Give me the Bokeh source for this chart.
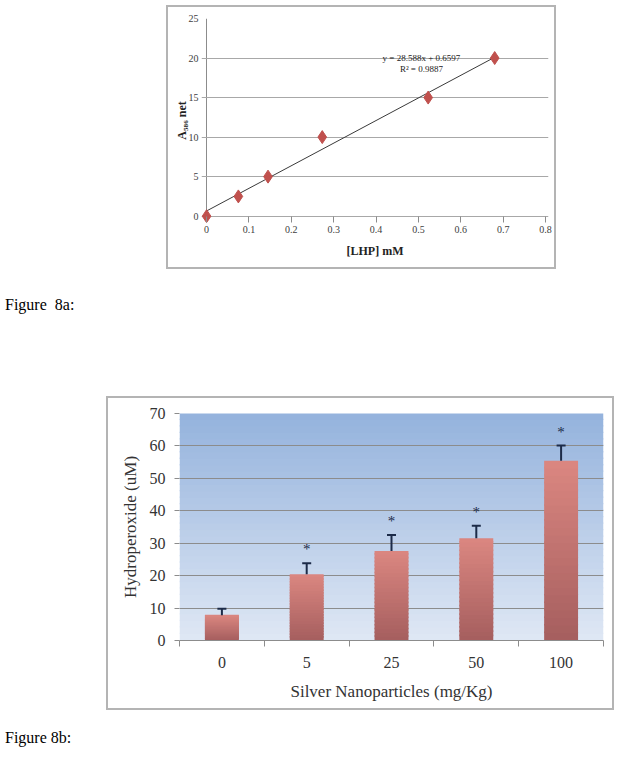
from bokeh.plotting import figure
from bokeh.models import (ColumnDataSource, FixedTicker, Whisker, TeeHead, BoxAnnotation,
                          Div, Spacer, Range1d)
from bokeh.layouts import column, row
from bokeh.embed import file_html
from bokeh.resources import INLINE
from bokeh.core.properties import value

# ---------------- Figure 8a data ----------------
lhp_mM = [0.0, 0.075, 0.145, 0.273, 0.523, 0.68]
a586_net = [0, 2.5, 5, 10, 15, 20]
fit_slope = 28.588
fit_intercept = 0.6597
fit_r2 = 0.9887
a_xticks = [0, 0.1, 0.2, 0.3, 0.4, 0.5, 0.6, 0.7, 0.8]
a_yticks = [0, 5, 10, 15, 20, 25]

# ---------------- Figure 8b data ----------------
doses = ["0", "5", "25", "50", "100"]
hydroperoxide = [7.8, 20.4, 27.6, 31.5, 55.4]
error_up = [2.0, 3.4, 4.9, 3.9, 4.7]
significant = [False, True, True, True, True]
b_yticks = [0, 10, 20, 30, 40, 50, 60, 70]

SERIF = "Liberation Serif"


def lerp(c1, c2, t):
    return "#%02x%02x%02x" % tuple(int(round(a + (b - a) * t)) for a, b in zip(c1, c2))


# ================= Figure 8a =================
p1 = figure(width=390, height=264, x_range=Range1d(-0.012, 0.807), y_range=Range1d(-0.8, 25),
            output_backend="svg", toolbar_location=None,
            min_border_left=33, min_border_right=10, min_border_top=11, min_border_bottom=49)
p1.styles = {"border": "2px solid #b4b4b4"}
p1.outline_line_color = None
# vertical grid line at x = 0 acts as the y axis line, y grid at 0 as the x axis line
p1.xgrid.ticker = FixedTicker(ticks=[a_xticks[0]])
p1.xgrid.grid_line_color = "#8c8c8c"
p1.ygrid.grid_line_color = "#a8a8a8"
p1.ygrid.ticker = FixedTicker(ticks=a_yticks)

p1.xaxis.ticker = FixedTicker(ticks=a_xticks)
p1.yaxis.ticker = FixedTicker(ticks=a_yticks)
for ax in (p1.xaxis[0], p1.yaxis[0]):
    ax.axis_line_color = None
    ax.minor_tick_line_color = None
    ax.minor_tick_in = 0
    ax.minor_tick_out = 0
    ax.major_label_text_font = SERIF
    ax.major_label_text_font_size = "10px"
    ax.major_label_text_color = "#404040"
    ax.axis_label_text_font = SERIF
    ax.axis_label_text_font_style = "bold"
    ax.axis_label_text_font_size = "12px"
    ax.axis_label_text_color = "#222222"
p1.yaxis.major_tick_line_color = None
p1.yaxis.major_tick_in = 0
p1.yaxis.major_tick_out = 0
p1.yaxis.major_label_standoff = 3
p1.yaxis.axis_label_standoff = -3
p1.xaxis.major_tick_line_color = "#8c8c8c"
p1.xaxis.major_tick_in = 6
p1.xaxis.major_tick_out = 0
p1.xaxis.major_label_standoff = 3
p1.xaxis.axis_label_standoff = 8
p1.xaxis.axis_label = "[LHP] mM"
p1.yaxis.axis_label = "A\u2085\u2088\u2086 net"

x_fit = [min(lhp_mM), max(lhp_mM)]
y_fit = [fit_slope * x + fit_intercept for x in x_fit]
p1.line(x_fit, y_fit, line_color="#3a3a3a", line_width=1)
p1.scatter(lhp_mM, a586_net, marker="diamond", size=13, fill_color="#c0504d",
           line_color="#c0504d")

p1.text(x=[0.507, 0.507], y=[20, 18.6],
        text=[f"y = {fit_slope}x + {fit_intercept}", f"R\u00b2 = {fit_r2}"],
        text_align="center", text_baseline="middle",
        text_font=value(SERIF), text_font_size="9px", text_color="#222222")

# ================= Figure 8b =================
p2 = figure(width=508, height=314, x_range=Range1d(0, len(doses)), y_range=Range1d(0, 70),
            output_backend="svg", toolbar_location=None,
            min_border_left=71, min_border_right=13, min_border_top=15, min_border_bottom=72)
p2.styles = {"border": "2px solid #b4b4b4"}
p2.outline_line_color = None

# gradient plot background
top_bg = (149, 179, 221)
bot_bg = (222, 231, 244)
NB = 35
ymax = b_yticks[-1]
for k in range(NB):
    t = k / (NB - 1)
    p2.add_layout(BoxAnnotation(bottom=ymax * k / NB, top=ymax * (k + 1) / NB + 0.4,
                                fill_color=lerp(bot_bg, top_bg, t), fill_alpha=1,
                                line_alpha=0, level="image"))

p2.xgrid.grid_line_color = None
p2.ygrid.grid_line_color = "#8c8c8c"
p2.ygrid.ticker = FixedTicker(ticks=b_yticks)

# bars with vertical gradient
xc = [i + 0.5 for i in range(len(doses))]
bar_top_c = (218, 134, 128)
bar_bot_c = (166, 95, 95)
N = 24
bx, btop, bbot, bcol = [], [], [], []
for x, v in zip(xc, hydroperoxide):
    for k in range(N):
        bx.append(x)
        bbot.append(v * k / N)
        btop.append(v * (k + 1) / N + (0.5 if k < N - 1 else 0))
        bcol.append(lerp(bar_bot_c, bar_top_c, k / (N - 1)))
p2.vbar(x=bx, top=btop, bottom=bbot, width=0.4, fill_color=bcol, line_color=None)

upper = [v + e for v, e in zip(hydroperoxide, error_up)]
err_src = ColumnDataSource(dict(x=xc, lower=hydroperoxide, upper=upper))
p2.add_layout(Whisker(source=err_src, base="x", upper="upper", lower="lower",
                      lower_head=None,
                      upper_head=TeeHead(size=9, line_color="#1c2b48", line_width=2),
                      line_color="#1c2b48", line_width=2, level="glyph"))

sx = [x for x, s in zip(xc, significant) if s]
sy = [u for u, s in zip(upper, significant) if s]
p2.text(x=sx, y=sy, text=["*"] * len(sx), text_align="center", text_baseline="middle",
        y_offset=-14, text_font=value(SERIF), text_font_size="15px", text_color="#1c2b48")

p2.xaxis.ticker = FixedTicker(ticks=xc, minor_ticks=list(range(len(doses) + 1)))
p2.xaxis.major_label_overrides = {x: d for x, d in zip(xc, doses)}
p2.xaxis.major_tick_in = 0
p2.xaxis.major_tick_out = 0
p2.xaxis.minor_tick_in = 0
p2.xaxis.minor_tick_out = 6
p2.xaxis.minor_tick_line_color = "#8c8c8c"
p2.xaxis.axis_line_color = "#8c8c8c"
p2.xaxis.major_label_standoff = 10
p2.xaxis.axis_label_standoff = 11

p2.yaxis.ticker = FixedTicker(ticks=b_yticks)
p2.yaxis.axis_line_color = None
p2.yaxis.major_tick_in = 0
p2.yaxis.major_tick_out = 5
p2.yaxis.major_tick_line_color = "#8c8c8c"
p2.yaxis.minor_tick_line_color = None
p2.yaxis.major_label_standoff = 9
p2.yaxis.axis_label_standoff = 7

for ax in (p2.xaxis[0], p2.yaxis[0]):
    ax.major_label_text_font = SERIF
    ax.major_label_text_font_size = "16px"
    ax.major_label_text_color = "#333333"
    ax.axis_label_text_font = SERIF
    ax.axis_label_text_font_style = "normal"
    ax.axis_label_text_font_size = "17px"
    ax.axis_label_text_color = "#333333"
p2.xaxis.axis_label = "Silver Nanoparticles (mg/Kg)"
p2.yaxis.axis_label = "Hydroperoxide (uM)"

cap_style = {"font-family": SERIF, "font-size": "16px", "color": "#000000"}
cap1 = Div(text="Figure&nbsp; 8a:", width=200, height=20, styles=cap_style)
cap2 = Div(text="Figure 8b:", width=200, height=20, styles=cap_style)

layout = column(
    Spacer(height=5, width=10),
    row(Spacer(width=166, height=10), p1),
    Spacer(height=20, width=10),
    cap1,
    Spacer(height=77, width=10),
    row(Spacer(width=106, height=10), p2),
    Spacer(height=12, width=10),
    cap2,
)

open("out.html", "w").write(file_html(layout, INLINE))
